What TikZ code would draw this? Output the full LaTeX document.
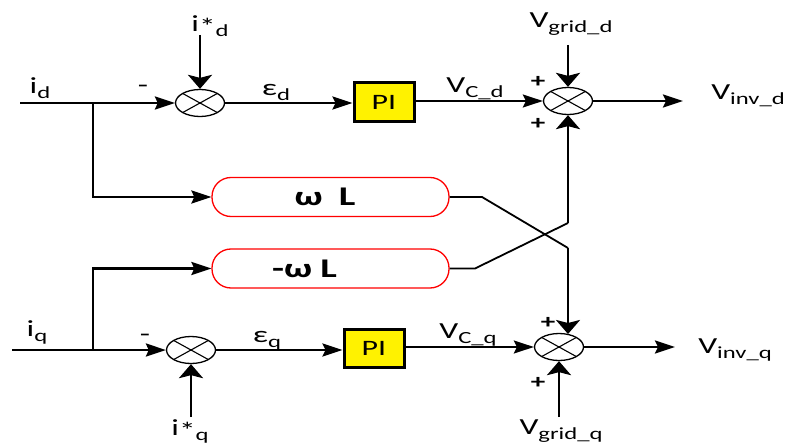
\documentclass[tikz,border=0pt]{standalone}
\usepackage{fontspec}
\setmainfont{Carlito}[FakeStretch=1.45]
\usetikzlibrary{arrows.meta,shapes.geometric}
\newcommand{\lsub}[1]{\raisebox{-5pt}{\fontsize{17}{17}\selectfont #1}}
\begin{document}
\begin{tikzpicture}[x=1pt,y=-1pt,
  lbl/.style={font=\fontsize{23}{25}\selectfont, inner sep=0pt},
  sgn/.style={font=\fontsize{20}{22}\selectfont\bfseries, inner sep=0pt},
  thk/.style={line width=2.6pt},
  med/.style={line width=1.8pt},
  harr/.style={-{Stealth[length=20pt,width=13pt,inset=3pt]}},
  varr/.style={-{Stealth[length=14pt,width=24pt,inset=3pt]}},
  sumnode/.style={draw, line width=1.3pt, ellipse, minimum width=49pt, minimum height=27pt, inner sep=0pt,
    path picture={\draw[line width=1.1pt] (path picture bounding box.north west) -- (path picture bounding box.south east)
      (path picture bounding box.north east) -- (path picture bounding box.south west);}},
  pibox/.style={draw, line width=3pt, fill=yellow, minimum width=60pt, minimum height=38pt, inner sep=0pt,
    font=\fontsize{22}{24}\selectfont},
  wbox/.style={draw=red, line width=1.3pt, rounded corners=19pt, minimum width=237pt, minimum height=39pt,
    inner sep=0pt, font=\fontsize{27}{29}\selectfont\bfseries}
]
\useasboundingbox (0,0) rectangle (790,444);

% blocks
\node[sumnode] (sum1) at (200,103) {};
\node[pibox] (pi1) at (384,102) {PI};
\node[sumnode] (sum2) at (568,101) {};
\node[sumnode] (sum3) at (191,350) {};
\node[pibox] (pi2) at (374,348) {PI};
\node[sumnode] (sum4) at (559,347) {};
\node[wbox] (wl) at (330.5,197) {ω\hspace{16pt}L\hspace*{11pt}};
\node[wbox] (nwl) at (330.5,268.5) {-ω\hspace{8pt}L\hspace*{52pt}};

% coordinates
\coordinate (idstart) at (20,103);
\coordinate (bd) at (93,103);
\coordinate (isd) at (200,35);
\coordinate (vgd) at (568,45);
\coordinate (vid) at (683,101);
\coordinate (x1) at (568,223);
\coordinate (x2) at (568,248);
\coordinate (k1) at (482,197);
\coordinate (k2) at (475,268.5);
\coordinate (c4top) at (568,334);
\coordinate (iqstart) at (12,350);
\coordinate (bq) at (93,350);
\coordinate (isq) at (191,417);
\coordinate (vgq) at (559,417);
\coordinate (viq) at (675,347);

% top row
\draw[thk,harr] (idstart) -- (sum1.west);
\draw[thk,harr] (bd) |- (wl.west);
\draw[thk,varr] (isd) -- (sum1.north);
\draw[thk,harr] (sum1.east) -- (sum1.east -| pi1.west);
\draw[med,harr] (pi1.east |- sum2) -- (sum2.west);
\draw[thk,varr] (vgd) -- (sum2.north);
\draw[thk,harr] (sum2.east) -- (vid);
\draw[thk,varr] (x1) -- (sum2.south);

% cross
\draw[med] (wl.east) -- (k1) -- (x2);
\draw[med] (nwl.east) -- (k2) -- (x1);
\draw[thk,varr] (x2) -- (c4top);

% bottom row
\draw[thk,harr] (iqstart) -- (sum3.west);
\draw[thk,harr] (bq) |- (nwl.west);
\draw[thk,varr] (isq) -- (sum3.south);
\draw[thk,harr] (sum3.east) -- (sum3.east -| pi2.west);
\draw[med,harr] (pi2.east |- sum4) -- (sum4.west);
\draw[thk,varr] (vgq) -- (sum4.south);
\draw[thk,harr] (sum4.east) -- (viq);

% labels
\node[lbl] (lid) at (40,88) {i\lsub{d}};
\node[lbl] (lisd) at (210,26) {i\raisebox{-3pt}{*}\lsub{d}};
\node[lbl] (mneg1) at (143,89) {-};
\node[lbl] (leps1) at (276,92) {ε\lsub{d}};
\node[lbl] (lvcd) at (475,89) {V\lsub{C\_d}};
\node[lbl] (lvgd) at (571,24) {V\lsub{grid\_d}};
\node[sgn] (p1) at (538,82) {+};
\node[sgn] (p2) at (538,124) {+};
\node[lbl] (lvid) at (748,96) {V\lsub{inv\_d}};

\node[lbl] (liq) at (37,332) {i\lsub{q}};
\node[lbl] (mneg2) at (145,338) {-};
\node[lbl] (leps2) at (267,341) {ε\lsub{q}};
\node[lbl] (lvcq) at (468,335) {V\lsub{C\_q}};
\node[sgn] (p3) at (548,323) {+};
\node[sgn] (p4) at (538,383) {+};
\node[lbl] (lviq) at (735,350) {V\lsub{inv\_q}};
\node[lbl] (lisq) at (190,431) {i\raisebox{-3pt}{*}\lsub{q}};
\node[lbl] (lvgq) at (561,431) {V\lsub{grid\_q}};
\end{tikzpicture}
\end{document}
